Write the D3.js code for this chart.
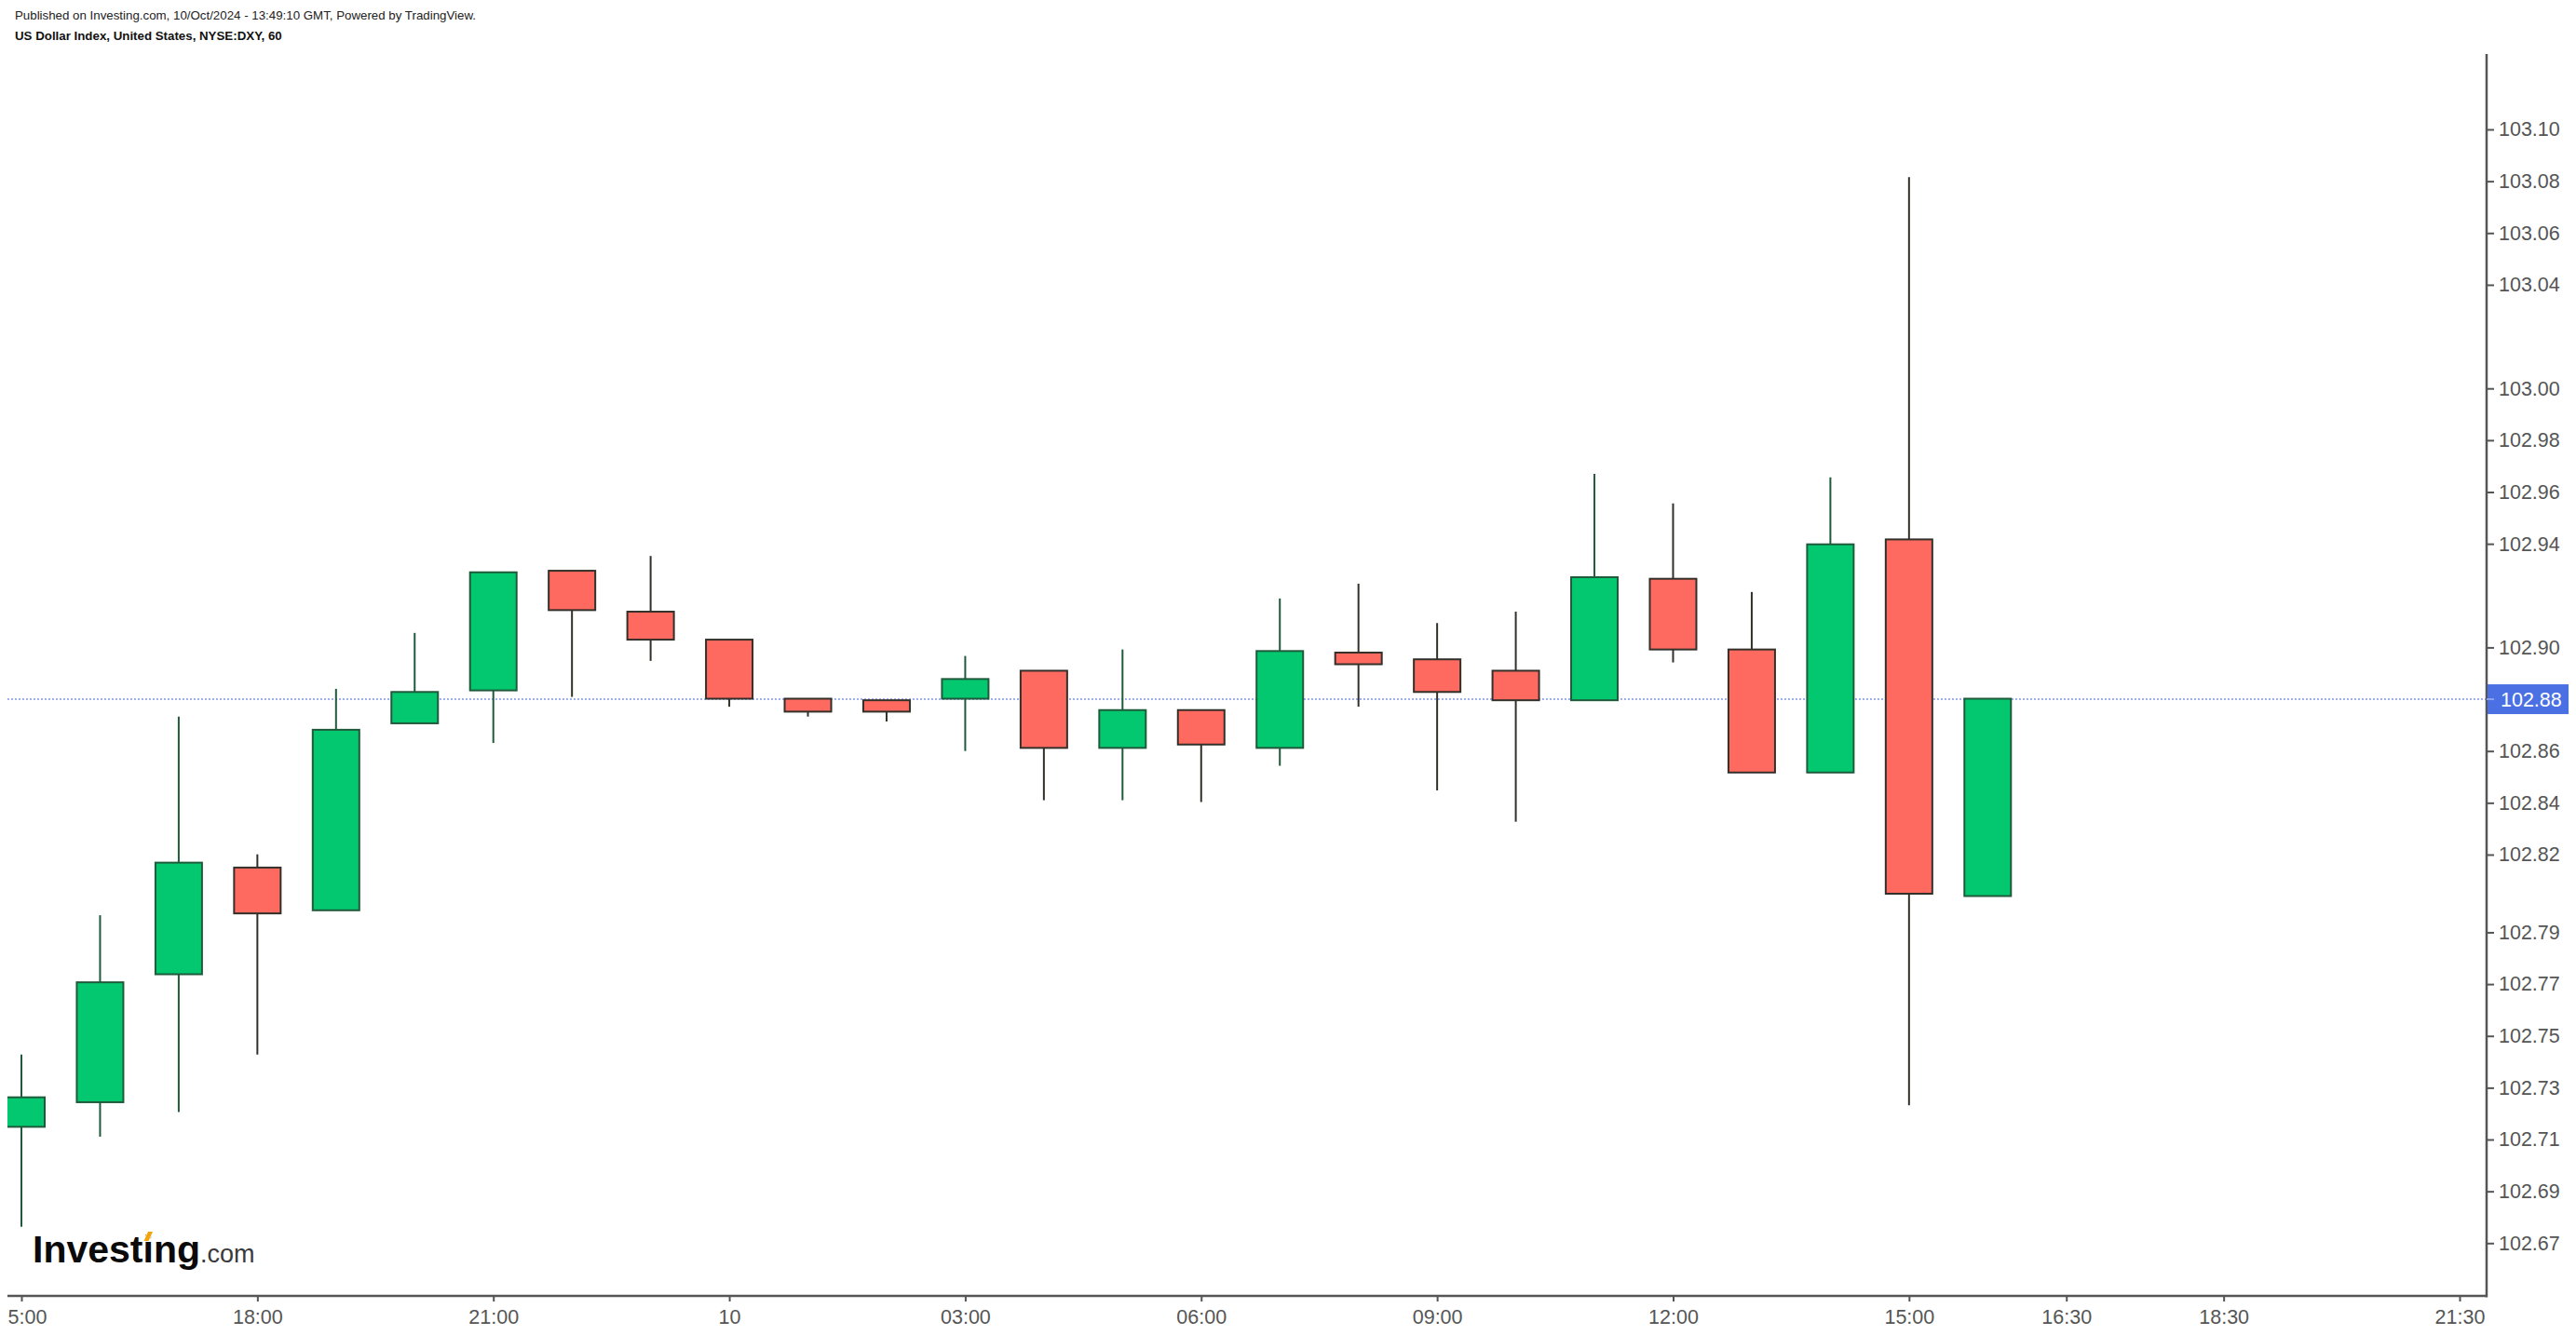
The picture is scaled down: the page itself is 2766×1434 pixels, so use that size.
<!DOCTYPE html>
<html>
<head>
<meta charset="utf-8">
<script src="https://cdn.jsdelivr.net/npm/d3@7"></script>
<style>
  html, body { margin: 0; padding: 0; background: #ffffff; }
  svg { display: block; }
  text { font-family: "Liberation Sans", Arial, sans-serif; }
</style>
</head>
<body>
<svg id="chart" width="2766" height="1434"></svg>
<script>
// ---- data (hourly candles, US Dollar Index) ----
const times = ["15:00","16:00","17:00","18:00","19:00","20:00","21:00","22:00","23:00","00:00","01:00","02:00","03:00","04:00","05:00","06:00","07:00","08:00","09:00","10:00","11:00","12:00","13:00","14:00","15:00","16:00"];
const opens  = [102.7149,102.7244,102.7738,102.8150,102.7985,102.8707,102.8834,102.9296,102.9138,102.9030,102.8802,102.8796,102.8802,102.8910,102.8612,102.8758,102.8612,102.8980,102.8954,102.8910,102.8796,102.9265,102.8992,102.8517,102.9417,102.8040];
const highs  = [102.7428,102.7966,102.8733,102.8201,102.8840,102.9056,102.9290,102.9296,102.9353,102.9030,102.8802,102.8796,102.8967,102.8910,102.8992,102.8758,102.9189,102.9246,102.9094,102.9138,102.9670,102.9556,102.9214,102.9657,103.0816,102.8802];
const lows   = [102.6763,102.7111,102.7206,102.7428,102.7985,102.8707,102.8631,102.8809,102.8948,102.8771,102.8733,102.8714,102.8600,102.8410,102.8410,102.8403,102.8543,102.8771,102.8448,102.8327,102.8796,102.8942,102.8517,102.8517,102.7232,102.8040];
const closes = [102.7263,102.7707,102.8169,102.7973,102.8682,102.8828,102.9290,102.9144,102.9030,102.8802,102.8752,102.8752,102.8878,102.8612,102.8758,102.8625,102.8986,102.8935,102.8828,102.8796,102.9271,102.8992,102.8517,102.9398,102.8049,102.8802];
const lastPrice = 102.88;

const yTickValues = [103.10,103.08,103.06,103.04,103.00,102.98,102.96,102.94,102.90,102.86,102.84,102.82,102.79,102.77,102.75,102.73,102.71,102.69,102.67];
const xTickIndex  = [0,3,6,9,12,15,18,21,24,26,28,31];
const xTickLabels = ["15:00","18:00","21:00","10","03:00","06:00","09:00","12:00","15:00","16:30","18:30","21:30"];

const headerLine1 = "Published on Investing.com, 10/Oct/2024 - 13:49:10 GMT, Powered by TradingView.";
const headerLine2 = "US Dollar Index, United States, NYSE:DXY, 60";

// ---- layout ----
const paneLeft = 8, paneRight = 2670, paneTop = 58, paneBottom = 1392;
const upFill = "#04c870", upLine = "#1f5a3b";
const downFill = "#ff6a60", downLine = "#33302a";
const axisColor = "#555555";

const svg = d3.select("#chart");

const x = d3.scaleLinear().domain([0, 31]).range([23, 2641]);
const y = d3.scaleLinear().domain([102.67, 103.10]).range([1335.3, 139]);

const candles = times.map((t, i) => ({ t, i, o: opens[i], h: highs[i], l: lows[i], c: closes[i] }));

// header
svg.append("text").attr("x", 16).attr("y", 21).attr("font-size", 13.3).attr("fill", "#222").text(headerLine1);
svg.append("text").attr("x", 16).attr("y", 43).attr("font-size", 13.3).attr("font-weight", "bold").attr("fill", "#111").text(headerLine2);

// clip
const defs = svg.append("defs");
defs.append("clipPath").attr("id", "pane").append("rect")
  .attr("x", paneLeft).attr("y", paneTop).attr("width", paneRight - paneLeft).attr("height", paneBottom - paneTop);
defs.append("clipPath").attr("id", "xlab").append("rect")
  .attr("x", paneLeft).attr("y", paneBottom).attr("width", 2766 - paneLeft).attr("height", 1434 - paneBottom);

const pane = svg.append("g").attr("clip-path", "url(#pane)");

// logo
const logo = svg.append("g");
logo.append("text").attr("x", 35).attr("y", 1356).attr("font-size", 41).attr("font-weight", "bold").attr("fill", "#0a0a0a").text("Investing");
logo.append("path").attr("d", "M153.5,1334 L158.5,1322 L165,1322 L160,1334 Z").attr("fill", "#ffffff");
logo.append("path").attr("d", "M154.5,1333 L159,1323 L164,1323 L159.5,1333 Z").attr("fill", "#f5a30b");
logo.append("text").attr("x", 215).attr("y", 1356).attr("font-size", 27).attr("fill", "#3a3a3a").text(".com");

// price line
pane.append("line")
  .attr("x1", paneLeft).attr("x2", paneRight)
  .attr("y1", y(lastPrice)).attr("y2", y(lastPrice))
  .attr("stroke", "#9fb0ee").attr("stroke-width", 2).attr("stroke-dasharray", "2 2");

// candles
const bodyW = 50;
const g = pane.selectAll("g.candle").data(candles).join("g").attr("class", "candle");
g.append("line")
  .attr("x1", d => x(d.i)).attr("x2", d => x(d.i))
  .attr("y1", d => y(d.h)).attr("y2", d => y(d.l))
  .attr("stroke", d => d.c >= d.o ? upLine : downLine).attr("stroke-width", 2);
g.append("rect")
  .attr("x", d => x(d.i) - bodyW / 2)
  .attr("width", bodyW)
  .attr("y", d => y(Math.max(d.o, d.c)))
  .attr("height", d => Math.max(1, Math.abs(y(d.o) - y(d.c))))
  .attr("fill", d => d.c >= d.o ? upFill : downFill)
  .attr("stroke", d => d.c >= d.o ? upLine : downLine)
  .attr("stroke-width", 2);

// right axis
const yAxis = d3.axisRight(y).tickValues(yTickValues).tickFormat(d3.format(".2f")).tickSize(8).tickPadding(5);
const ya = svg.append("g").attr("transform", `translate(${paneRight},0)`).call(yAxis);
ya.select(".domain").remove();
ya.selectAll(".tick line").attr("stroke", axisColor).attr("stroke-width", 2);
ya.selectAll(".tick text").attr("fill", axisColor).attr("font-size", 21.5).attr("font-family", "Liberation Sans, Arial, sans-serif");

// bottom axis (clip wrapper without transform so the clip is in page coordinates)
const xAxis = d3.axisBottom(x).tickValues(xTickIndex).tickFormat((d, i) => xTickLabels[i]).tickSize(6).tickPadding(9);
const xaWrap = svg.append("g").attr("clip-path", "url(#xlab)");
const xa = xaWrap.append("g").attr("transform", `translate(0,${paneBottom})`).call(xAxis);
xa.select(".domain").remove();
xa.selectAll(".tick line").attr("stroke", axisColor).attr("stroke-width", 2);
xa.selectAll(".tick text").attr("fill", axisColor).attr("font-size", 21.5).attr("font-family", "Liberation Sans, Arial, sans-serif");

// axis lines
svg.append("line").attr("x1", paneRight).attr("x2", paneRight).attr("y1", paneTop).attr("y2", paneBottom + 1.5)
  .attr("stroke", axisColor).attr("stroke-width", 2.5);
svg.append("line").attr("x1", paneLeft).attr("x2", paneRight).attr("y1", paneBottom).attr("y2", paneBottom)
  .attr("stroke", axisColor).attr("stroke-width", 2.5);

// price label
const py = y(lastPrice);
svg.append("rect").attr("x", paneRight + 1).attr("y", py - 16).attr("width", 87).attr("height", 32).attr("fill", "#4a70e4");
svg.append("line").attr("x1", paneRight).attr("x2", paneRight + 8).attr("y1", py).attr("y2", py).attr("stroke", "#8ea3ee").attr("stroke-width", 2);
svg.append("text").attr("x", paneRight + 15).attr("y", py).attr("dy", "0.36em")
  .attr("font-size", 21.5).attr("fill", "#ffffff").text(d3.format(".2f")(lastPrice));
</script>
</body>
</html>
